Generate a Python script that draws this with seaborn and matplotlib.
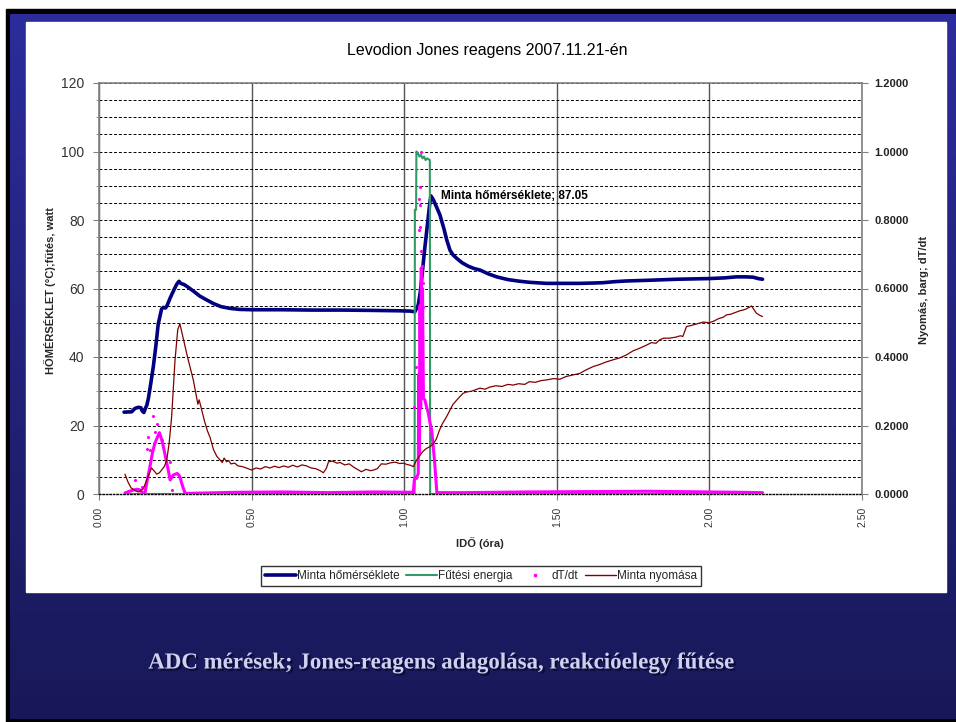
import numpy as np
import matplotlib
matplotlib.use("Agg")
import matplotlib.pyplot as plt
import matplotlib.patheffects as pe
from matplotlib.lines import Line2D
from matplotlib.patches import Rectangle
from matplotlib.ticker import MultipleLocator
import seaborn as sns

# ---------------------------------------------------------------- data
# sample temperature, °C (left axis)
temp_time = [0.082, 0.107, 0.118, 0.128, 0.137, 0.142, 0.147, 0.152, 0.157, 0.162,
             0.170, 0.178, 0.186, 0.194, 0.200, 0.205, 0.211, 0.218, 0.223, 0.233,
             0.245, 0.255, 0.262, 0.268, 0.280, 0.293, 0.310, 0.330, 0.350, 0.375,
             0.400, 0.429, 0.460, 0.500, 0.600, 0.700, 0.800, 0.900, 0.980, 1.020,
             1.035, 1.046, 1.052, 1.057, 1.062, 1.068, 1.074, 1.079, 1.084, 1.0875,
             1.095, 1.105, 1.117, 1.130, 1.140, 1.150, 1.160, 1.172, 1.190, 1.210,
             1.230, 1.248, 1.275, 1.303, 1.340, 1.380, 1.412, 1.466, 1.510, 1.575,
             1.620, 1.652, 1.690, 1.728, 1.800, 1.892, 2.000, 2.050, 2.088, 2.120,
             2.143, 2.160, 2.174]
temp_value = [23.9, 24.0, 25.0, 25.3, 25.2, 24.2, 23.8, 25.0, 26.0, 28.0,
              32.5, 37.2, 43.0, 49.6, 52.0, 54.0, 54.5, 54.3, 55.0, 57.2,
              59.5, 61.3, 62.1, 61.5, 61.1, 60.3, 59.2, 57.8, 56.8, 55.6,
              54.7, 54.2, 53.9, 53.8, 53.8, 53.7, 53.7, 53.6, 53.5, 53.4,
              53.2, 55.2, 58.5, 62.5, 67.0, 72.2, 77.0, 81.0, 85.0, 87.05,
              86.0, 84.0, 81.5, 77.5, 74.0, 71.2, 69.8, 68.8, 67.5, 66.5,
              65.8, 65.4, 64.3, 63.4, 62.6, 62.1, 61.8, 61.5, 61.5, 61.5,
              61.6, 61.7, 62.0, 62.2, 62.4, 62.7, 62.9, 63.1, 63.4, 63.4,
              63.3, 62.9, 62.7]
peak_label = "Minta hőmérséklete; 87.05"
peak_time = 1.0875
peak_value = 87.05

# heating power, watt (left axis)
heat_time = [0.085, 1.034, 1.035, 1.039, 1.040, 1.045, 1.050, 1.055, 1.060, 1.065,
             1.070, 1.075, 1.080, 1.0840, 1.0850, 2.174]
heat_value = [0, 0, 83, 83, 100, 99.5, 98.5, 99.0, 98.0, 98.5,
              97.5, 98.0, 97.7, 97.5, 0, 0]

# dT/dt (right axis)
dtdt_time = [0.085, 0.100, 0.115, 0.125, 0.134, 0.142, 0.150, 0.158, 0.167, 0.175,
             0.183, 0.191, 0.198, 0.205, 0.211, 0.217, 0.222, 0.228, 0.233, 0.238,
             0.243, 0.250, 0.256, 0.262, 0.267, 0.271, 0.277, 0.282, 0.300, 0.450,
             0.600, 0.750, 0.900, 1.030, 1.033, 1.036, 1.040, 1.044, 1.046, 1.048,
             1.050, 1.052, 1.054, 1.056, 1.058, 1.060, 1.063, 1.068, 1.073, 1.079,
             1.084, 1.090, 1.095, 1.100, 1.104, 1.107, 1.200, 1.400, 1.600, 1.800,
             2.000, 2.100, 2.174]
dtdt_value = [0.003, 0.008, 0.012, 0.014, 0.012, 0.005, 0.000, 0.040, 0.080, 0.120,
              0.148, 0.165, 0.179, 0.160, 0.138, 0.112, 0.090, 0.065, 0.041, 0.048,
              0.055, 0.058, 0.060, 0.055, 0.045, 0.031, 0.015, 0.002, 0.002, 0.005,
              0.006, 0.004, 0.006, 0.005, 0.040, 0.048, 0.045, 0.055, 0.060, 0.350,
              0.120, 0.550, 0.250, 0.660, 0.400, 0.600, 0.280, 0.274, 0.255, 0.236,
              0.210, 0.187, 0.140, 0.090, 0.040, 0.004, 0.004, 0.006, 0.007, 0.008,
              0.006, 0.005, 0.004]
# isolated dT/dt readings
dot_time = [0.118, 0.140, 0.156, 0.162, 0.167, 0.178, 0.183, 0.189, 0.205, 0.233,
            0.238, 1.032, 1.038, 1.049, 1.050, 1.051, 1.052, 1.053, 1.054, 1.055,
            1.057, 1.057, 1.060, 1.062]
dot_value = [0.041, 0.020, 0.131, 0.167, 0.128, 0.228, 0.182, 0.204, 0.158, 0.094,
             0.012, 0.255, 0.370, 0.860, 0.770, 0.897, 0.844, 0.780, 1.000, 0.710,
             0.460, 0.666, 0.615, 0.547]

# sample pressure, barg (right axis)
pres_time = [0.085, 0.095, 0.105, 0.118, 0.130, 0.145, 0.158, 0.172, 0.182, 0.189,
             0.198, 0.205, 0.214, 0.222, 0.230, 0.238, 0.249, 0.258, 0.265, 0.272,
             0.280, 0.290, 0.300, 0.309, 0.318, 0.324, 0.328, 0.333, 0.345, 0.355,
             0.364, 0.375, 0.386, 0.396, 0.404, 0.410, 0.418, 0.425, 0.432, 0.445,
             0.455, 0.470, 0.485, 0.500, 0.515, 0.530, 0.545, 0.560, 0.575, 0.590,
             0.605, 0.620, 0.635, 0.650, 0.665, 0.680, 0.695, 0.710, 0.725, 0.735,
             0.745, 0.752, 0.765, 0.780, 0.790, 0.805, 0.820, 0.835, 0.850, 0.860,
             0.875, 0.890, 0.900, 0.912, 0.925, 0.940, 0.955, 0.970, 0.985, 0.997,
             1.010, 1.020, 1.030, 1.040, 1.051, 1.062, 1.073, 1.084, 1.095, 1.105,
             1.115, 1.125, 1.139, 1.150, 1.160, 1.170, 1.182, 1.193, 1.205, 1.220,
             1.235, 1.248, 1.265, 1.280, 1.300, 1.320, 1.340, 1.357, 1.375, 1.395,
             1.410, 1.430, 1.448, 1.466, 1.490, 1.510, 1.530, 1.550, 1.575, 1.595,
             1.619, 1.640, 1.660, 1.685, 1.705, 1.728, 1.750, 1.770, 1.790, 1.810,
             1.825, 1.837, 1.850, 1.870, 1.890, 1.905, 1.913, 1.925, 1.940, 1.960,
             1.980, 2.000, 2.015, 2.030, 2.045, 2.056, 2.070, 2.085, 2.100, 2.110,
             2.120, 2.130, 2.138, 2.145, 2.154, 2.164, 2.174]
pres_value = [0.058, 0.035, 0.018, 0.010, 0.006, 0.015, 0.045, 0.076, 0.066, 0.058,
              0.062, 0.070, 0.080, 0.099, 0.150, 0.226, 0.390, 0.480, 0.497, 0.470,
              0.440, 0.400, 0.365, 0.333, 0.290, 0.262, 0.275, 0.258, 0.215, 0.185,
              0.165, 0.130, 0.110, 0.100, 0.092, 0.105, 0.094, 0.098, 0.088, 0.090,
              0.082, 0.080, 0.075, 0.070, 0.076, 0.073, 0.080, 0.076, 0.081, 0.077,
              0.082, 0.078, 0.084, 0.079, 0.085, 0.082, 0.076, 0.074, 0.068, 0.062,
              0.075, 0.094, 0.096, 0.090, 0.092, 0.085, 0.088, 0.078, 0.070, 0.065,
              0.072, 0.068, 0.070, 0.074, 0.088, 0.087, 0.091, 0.093, 0.089, 0.090,
              0.086, 0.084, 0.080, 0.098, 0.112, 0.125, 0.133, 0.138, 0.146, 0.160,
              0.185, 0.205, 0.226, 0.245, 0.262, 0.272, 0.284, 0.294, 0.298, 0.300,
              0.305, 0.309, 0.306, 0.312, 0.316, 0.314, 0.320, 0.318, 0.322, 0.320,
              0.328, 0.326, 0.331, 0.333, 0.337, 0.335, 0.343, 0.347, 0.352, 0.362,
              0.372, 0.378, 0.385, 0.392, 0.397, 0.406, 0.418, 0.425, 0.433, 0.442,
              0.440, 0.450, 0.455, 0.455, 0.458, 0.462, 0.460, 0.489, 0.492, 0.497,
              0.502, 0.500, 0.505, 0.512, 0.516, 0.523, 0.525, 0.530, 0.535, 0.537,
              0.540, 0.545, 0.549, 0.540, 0.528, 0.522, 0.518]

x_ticks = [0.0, 0.5, 1.0, 1.5, 2.0, 2.5]
left_ticks = [0, 20, 40, 60, 80, 100, 120]
right_ticks = [0.0, 0.2, 0.4, 0.6, 0.8, 1.0, 1.2]
series_names = ["Minta hőmérséklete", "Fűtési energia", "dT/dt", "Minta nyomása"]

# ---------------------------------------------------------------- style
sns.set_style("white")
plt.rcParams["font.family"] = ["Liberation Sans", "DejaVu Sans"]

C_TEMP, C_HEAT, C_DTDT, C_PRES = "#000080", "#339966", "#ff00ff", "#800000"

W, H = 956, 722
fig = plt.figure(figsize=(W / 100, H / 100), dpi=100)
fig.patch.set_facecolor("white")


def fx(px):
    return px / W


def fy(py):
    return 1 - py / H


# slide background: dark frame, blue gradient and the white chart panel
bg = fig.add_axes([0, 0, 1, 1], zorder=-10)
bg.axis("off")
bg.add_patch(Rectangle((6, 9), W - 6, H - 9, color="black", zorder=0))
g = np.linspace(0, 1, 256)[:, None, None]
top_c = np.array([0x2c, 0x2c, 0x9c]) / 255
bot_c = np.array([0x18, 0x18, 0x58]) / 255
grad = top_c + (bot_c - top_c) * g
bg.imshow(grad, extent=(10, W, 719, 14), aspect="auto", interpolation="bilinear", zorder=1)
bg.add_patch(Rectangle((26, 22), 946 - 26, 592 - 22, color="white", zorder=2))
bg.set_xlim(0, W)
bg.set_ylim(H, 0)

# ---------------------------------------------------------------- chart
ax = fig.add_axes([fx(99), fy(494), fx(862) - fx(99), fy(83) - fy(494)])
ax.set_facecolor("white")
ax2 = ax.twinx()

sns.lineplot(x=temp_time, y=temp_value, ax=ax, color=C_TEMP, lw=2.6,
             estimator=None, sort=False)
sns.lineplot(x=heat_time, y=heat_value, ax=ax, color=C_HEAT, lw=1.5,
             estimator=None, sort=False)
sns.lineplot(x=dtdt_time, y=dtdt_value, ax=ax2, color=C_DTDT, lw=2.2,
             estimator=None, sort=False)
sns.scatterplot(x=dot_time, y=dot_value, ax=ax2, color=C_DTDT, s=5, linewidth=0)
sns.lineplot(x=pres_time, y=pres_value, ax=ax2, color=C_PRES, lw=0.9,
             estimator=None, sort=False)

ax.set_xlim(0, 2.5)
ax.set_ylim(0, 120)
ax2.set_ylim(0, 1.2)
for a in (ax, ax2):
    a.set_xlabel("")
    a.set_ylabel("")

# grid: dashed horizontals every 5, solid verticals every 0.5
ax.yaxis.set_minor_locator(MultipleLocator(5))
ax.set_axisbelow(True)
ax.grid(axis="y", which="both", color="black", lw=0.7, linestyle=(0, (3, 2)))
ax.grid(axis="x", which="major", color="#555555", lw=1.0, linestyle="-")

# spines
for s in ("left", "right", "top"):
    ax.spines[s].set_color("#808080")
    ax.spines[s].set_linewidth(1.2)
ax.spines["right"].set_visible(False)
ax.spines["bottom"].set_color("black")
ax.spines["bottom"].set_linewidth(1.0)
ax.spines["bottom"].set_linestyle((0, (1, 1.5)))
for s in ("left", "top", "bottom"):
    ax2.spines[s].set_visible(False)
ax2.spines["right"].set_color("#808080")
ax2.spines["right"].set_linewidth(1.2)

# ticks
ax.set_xticks(x_ticks, labels=[f"{v:.2f}" for v in x_ticks], rotation=90)
ax.tick_params(axis="x", direction="out", length=4, color="#808080",
               labelsize=7.5, labelcolor="#333333", pad=5, bottom=True)
ax.set_yticks(left_ticks, labels=[str(v) for v in left_ticks])
ax.tick_params(axis="y", which="major", direction="out", length=4, color="#808080",
               labelsize=10, labelcolor="#333333", pad=6.5, left=True)
ax.tick_params(axis="y", which="minor", direction="out", length=2, color="#808080",
               left=True)
ax2.set_yticks(right_ticks, labels=[f"{v:.4f}" for v in right_ticks],
               fontweight="bold")
ax2.tick_params(axis="y", direction="out", length=4, color="#808080",
                labelsize=8, labelcolor="#222222", pad=5, right=True)

# peak annotation
ax.text(peak_time + 0.033, peak_value, peak_label, ha="left", va="center",
        fontsize=8.5, fontweight="bold", color="black")

# titles and axis names
fig.text(fx(487), fy(51), "Levodion Jones reagens 2007.11.21-én",
         ha="center", va="center", fontsize=11.5, color="black")
fig.text(fx(50), fy(291), "HŐMÉRSÉKLET (°C);fűtés, watt", rotation=90,
         ha="center", va="center", fontsize=8, fontweight="bold")
fig.text(fx(924), fy(290), "Nyomás, barg; dT/dt", rotation=90,
         ha="center", va="center", fontsize=8, fontweight="bold")
fig.text(fx(480), fy(543), "IDŐ (óra)", ha="center", va="center",
         fontsize=8, fontweight="bold")

# legend
handles = [
    Line2D([], [], color=C_TEMP, lw=2.6),
    Line2D([], [], color=C_HEAT, lw=1.5),
    Line2D([], [], color=C_DTDT, marker="s", markersize=1.8, ls="none"),
    Line2D([], [], color=C_PRES, lw=1.0),
]
leg = fig.legend(handles, series_names, loc="center",
                 bbox_to_anchor=(fx(481), fy(576)), ncol=4, frameon=True,
                 fancybox=False, edgecolor="black", fontsize=8.5,
                 handlelength=2.6, handletextpad=0.1, columnspacing=0.6,
                 borderpad=0.3, borderaxespad=0)
leg.get_frame().set_linewidth(1.0)

# slide caption
fig.text(fx(441), fy(663),
         "ADC mérések; Jones-reagens adagolása, reakcióelegy fűtése",
         ha="center", va="center", fontsize=16.5, fontweight="bold",
         family=["Liberation Serif", "DejaVu Serif"], color="#d0d0f2",
         path_effects=[pe.withSimplePatchShadow(offset=(1.5, -1.5),
                                                shadow_rgbFace="#08082a",
                                                alpha=0.85)])

fig.savefig("out.png", dpi=100)
